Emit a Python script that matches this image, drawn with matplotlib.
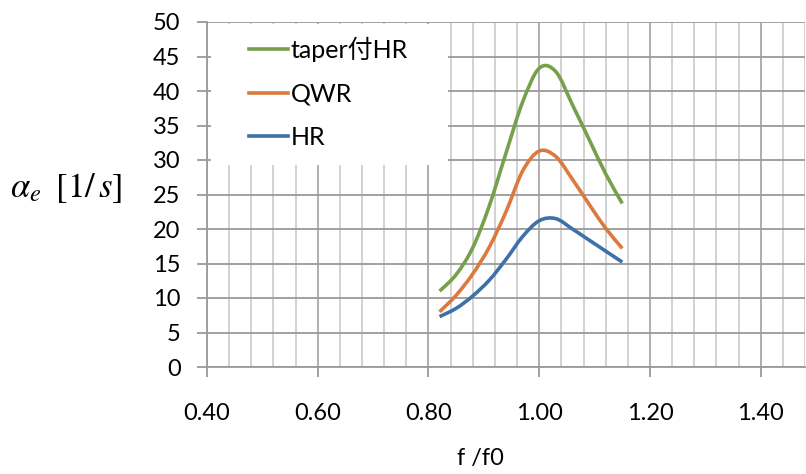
import matplotlib
matplotlib.use("Agg")
import matplotlib.pyplot as plt
from matplotlib.patches import Rectangle, PathPatch
from matplotlib.path import Path
from matplotlib.lines import Line2D
from matplotlib.ticker import MultipleLocator, FormatStrFormatter

# ---- data ----
f_ratio = [0.82, 0.85, 0.88, 0.91, 0.94, 0.97, 1.00, 1.03, 1.06, 1.09, 1.12, 1.15]
taper_hr = [11.0, 13.4, 17.3, 23.4, 31.0, 38.4, 43.3, 42.8, 38.0, 33.0, 28.0, 23.7]
qwr = [8.0, 10.4, 13.5, 17.4, 22.5, 28.4, 31.3, 30.5, 27.2, 23.6, 20.1, 17.2]
hr = [7.3, 8.5, 10.3, 12.6, 15.6, 18.9, 21.2, 21.5, 20.0, 18.4, 16.8, 15.2]
series_names = ["taper付HR", "QWR", "HR"]
series_colors = ["#77a04c", "#dc7a3e", "#3f70a8"]

plt.rcParams['font.family'] = ['Lato', 'Noto Sans CJK JP', 'DejaVu Sans']
plt.rcParams['mathtext.fontset'] = 'stix'


def smooth_path(xs, ys):
    """Excel-like smoothed line: Catmull-Rom segments as cubic Beziers."""
    n = len(xs)
    verts = [(xs[0], ys[0])]
    codes = [Path.MOVETO]
    for i in range(n - 1):
        x0, y0 = (xs[i - 1], ys[i - 1]) if i > 0 else (xs[i], ys[i])
        x1, y1 = xs[i], ys[i]
        x2, y2 = xs[i + 1], ys[i + 1]
        x3, y3 = (xs[i + 2], ys[i + 2]) if i + 2 < n else (x2, y2)
        c1 = (x1 + (x2 - x0) / 6, y1 + (y2 - y0) / 6)
        c2 = (x2 - (x3 - x1) / 6, y2 - (y3 - y1) / 6)
        verts += [c1, c2, (x2, y2)]
        codes += [Path.CURVE4] * 3
    return Path(verts, codes)


W, H = 806, 474
fig = plt.figure(figsize=(W / 100, H / 100), dpi=100)
L, R, T, B = 207, 805, 22, 367
ax = fig.add_axes([L / W, 1 - B / H, (R - L) / W, (B - T) / H])

ax.set_xlim(0.40, 1.48)
ax.set_ylim(0, 50)
ax.xaxis.set_major_locator(MultipleLocator(0.2))
ax.xaxis.set_minor_locator(MultipleLocator(0.04))
ax.yaxis.set_major_locator(MultipleLocator(5))
ax.xaxis.set_major_formatter(FormatStrFormatter('%.2f'))

ax.grid(True, which='major', axis='y', color='#9a9a9a', lw=1.3)
ax.grid(True, which='major', axis='x', color='#a8a8a8', lw=1.3)
ax.grid(True, which='minor', axis='x', color='#cfcfcf', lw=1.3)
ax.set_axisbelow(True)

for s in ['top', 'right']:
    ax.spines[s].set_visible(False)
for s in ['left', 'bottom']:
    ax.spines[s].set_color('#9a9a9a')
    ax.spines[s].set_linewidth(1.3)

ax.tick_params(axis='both', which='major', colors='#9a9a9a', length=7, width=1.3,
               labelcolor='black', labelsize=17)
ax.tick_params(axis='x', which='major', pad=19)
ax.tick_params(axis='x', which='minor', length=0)
ax.tick_params(axis='y', pad=12)

# white legend box covering the grid
ax.add_patch(Rectangle((0.006, 0.585), 0.397, 0.408, transform=ax.transAxes,
                       facecolor='white', edgecolor='none', zorder=1.5))

handles = []
for y, name, c in zip([taper_hr, qwr, hr], series_names, series_colors):
    p = PathPatch(smooth_path(f_ratio, y), facecolor='none', edgecolor=c, lw=2.6,
                  zorder=3, capstyle='butt')
    ax.add_patch(p)
    handles.append(Line2D([], [], color=c, lw=2.6, label=name))

leg = ax.legend(handles=handles, loc='upper left', bbox_to_anchor=(0.070, 0.958),
                frameon=False, fontsize=18, handlelength=1.55, handletextpad=0.12,
                labelspacing=0.82, borderpad=0, borderaxespad=0)
leg.set_zorder(4)

fig.text(480 / W, 1 - 458 / H, 'f /f0', ha='center', va='center', fontsize=17)
fig.text(66 / W, 1 - 188 / H, r'$\alpha_e\;\;[1/\,s]$', ha='center', va='center',
         fontsize=25)

fig.savefig('out.png', dpi=100, facecolor='white')
